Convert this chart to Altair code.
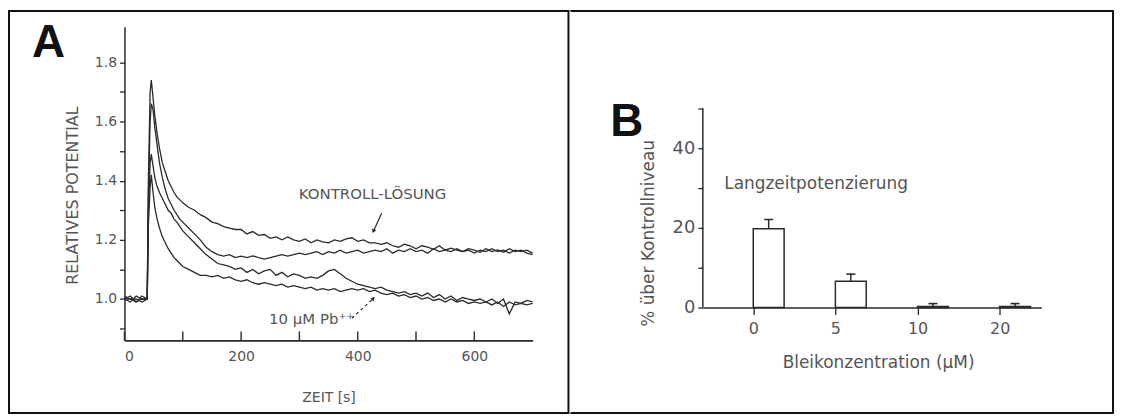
import altair as alt
import pandas as pd

# ---------------- data: panel A (time courses) ----------------
T = [0, 10, 20, 30, 39, 41, 44, 46, 49, 52, 56, 60, 65, 70, 75, 80, 85, 90, 95,
     100, 110, 120, 130, 140, 150, 160, 170, 180, 190,
     200, 210, 220, 230, 240, 250, 260, 270, 280, 290,
     300, 310, 320, 330, 340, 350, 360, 370, 380, 390,
     400, 410, 420, 430, 440, 450, 460, 470, 480, 490,
     500, 510, 520, 530, 540, 550, 560, 570, 580, 590,
     600, 610, 620, 630, 640, 650, 660, 670, 680, 690, 700]

CTRL_1 = [1.00, 1.01, 0.99, 1.00, 1.00, 1.40, 1.70, 1.74, 1.68, 1.62, 1.56, 1.51, 1.46, 1.43, 1.40, 1.38, 1.36, 1.345, 1.335,
          1.325, 1.31, 1.30, 1.285, 1.275, 1.26, 1.255, 1.245, 1.24, 1.235,
          1.235, 1.22, 1.228, 1.215, 1.218, 1.205, 1.21, 1.20, 1.21, 1.20,
          1.195, 1.203, 1.19, 1.20, 1.193, 1.19, 1.20, 1.195, 1.203, 1.207,
          1.195, 1.20, 1.19, 1.19, 1.185, 1.19, 1.18, 1.175, 1.185, 1.18,
          1.17, 1.18, 1.175, 1.168, 1.18, 1.165, 1.172, 1.165, 1.16, 1.17,
          1.165, 1.158, 1.17, 1.16, 1.166, 1.158, 1.17, 1.16, 1.165, 1.155, 1.15]

CTRL_2 = [1.00, 0.99, 1.01, 1.00, 1.00, 1.35, 1.60, 1.66, 1.64, 1.58, 1.52, 1.46, 1.41, 1.37, 1.34, 1.32, 1.30, 1.285, 1.27,
          1.26, 1.24, 1.22, 1.20, 1.175, 1.16, 1.15, 1.145, 1.15, 1.14,
          1.145, 1.14, 1.146, 1.14, 1.135, 1.14, 1.145, 1.15, 1.145, 1.15,
          1.155, 1.15, 1.155, 1.16, 1.15, 1.16, 1.155, 1.165, 1.155, 1.16,
          1.165, 1.155, 1.16, 1.165, 1.16, 1.17, 1.155, 1.165, 1.16, 1.17,
          1.16, 1.165, 1.155, 1.17, 1.16, 1.165, 1.16, 1.17, 1.16, 1.165,
          1.155, 1.165, 1.16, 1.17, 1.16, 1.165, 1.155, 1.165, 1.16, 1.165, 1.155]

PB_1 = [1.01, 1.00, 1.00, 0.99, 1.00, 1.30, 1.46, 1.49, 1.45, 1.41, 1.38, 1.36, 1.34, 1.32, 1.30, 1.29, 1.27, 1.26, 1.245,
        1.23, 1.21, 1.19, 1.17, 1.15, 1.135, 1.12, 1.115, 1.11, 1.10,
        1.105, 1.09, 1.10, 1.085, 1.095, 1.10, 1.08, 1.09, 1.075, 1.085,
        1.08, 1.07, 1.075, 1.07, 1.08, 1.095, 1.10, 1.085, 1.07, 1.06,
        1.05, 1.045, 1.04, 1.035, 1.04, 1.03, 1.025, 1.02, 1.025, 1.015,
        1.02, 1.01, 1.02, 1.005, 1.015, 1.00, 1.01, 0.995, 1.005, 1.00,
        0.995, 1.00, 0.99, 1.00, 0.985, 1.00, 0.95, 0.99, 0.985, 0.995, 0.99]

PB_2 = [1.00, 1.00, 0.99, 1.01, 1.00, 1.25, 1.38, 1.42, 1.36, 1.31, 1.27, 1.24, 1.21, 1.19, 1.17, 1.155, 1.14, 1.13, 1.12,
        1.11, 1.10, 1.09, 1.08, 1.08, 1.075, 1.08, 1.07, 1.075, 1.065,
        1.06, 1.065, 1.055, 1.05, 1.055, 1.05, 1.045, 1.05, 1.04, 1.045,
        1.04, 1.035, 1.04, 1.03, 1.035, 1.03, 1.035, 1.025, 1.03, 1.035,
        1.03, 1.035, 1.025, 1.03, 1.02, 1.015, 1.02, 1.01, 1.015, 1.005,
        1.01, 1.00, 1.005, 0.995, 1.00, 0.99, 1.00, 0.99, 0.995, 0.985,
        0.99, 0.985, 0.99, 0.98, 0.99, 0.975, 0.99, 0.98, 0.985, 0.98, 0.985]

TRACE_NAMES = ["Kontrolle 1", "Kontrolle 2", "Pb 1", "Pb 2"]
X_RANGE_A = [0, 700]
X_TICKS_A = [0, 100, 200, 300, 400, 500, 600]
X_LABELS_A = [0, 200, 400, 600]
Y_TICKS_A = [0.9, 1.0, 1.1, 1.2, 1.3, 1.4, 1.5, 1.6, 1.7, 1.8]

ANN_A_TEXT = ["KONTROLL-LÖSUNG", "10 μM Pb⁺⁺"]
ANN_A_T = [299, 248]
ANN_A_V = [1.354, 0.933]

ARROW_T0 = [441, 390]
ARROW_V0 = [1.29, 0.935]
ARROW_T1 = [427, 427]
ARROW_V1 = [1.229, 1.002]
ARROW_DASH = ["solid", "dashed"]

# ---------------- data: panel B (bar chart) ----------------
CONC_LABELS = ["0", "5", "10", "20"]
LTP_MEAN = [19.8, 6.6, 0.3, 0.3]
LTP_ERR = [2.3, 1.8, 0.7, 0.7]
Y_TICKS_B = [0, 10, 20, 30, 40, 50]
ANN_B_TEXT = ["Langzeitpotenzierung"]
ANN_B_POS = [-0.353]
ANN_B_V = [31]

# ---------------- styling ----------------
FONT = "DejaVu Sans"
INK = "#2a2a2a"
LAB = "#555555"
FRAME = "#111111"

rows = []
for name, vals in zip(TRACE_NAMES, [CTRL_1, CTRL_2, PB_1, PB_2]):
    for t, v in zip(T, vals):
        rows.append({"t": t, "v": v, "trace": name})
df_a = pd.DataFrame(rows)

one = pd.DataFrame({"k": [0]})

# ---------------- panel A ----------------
WA, HA = 410, 315
xa = alt.Scale(domain=X_RANGE_A, nice=False, zero=False)
ya = alt.Scale(domain=[0.86, 1.92], nice=False, zero=False)
ax_xa = alt.Axis(
    values=X_LABELS_A, tickSize=0, labelPadding=9, labelFontSize=14,
    domain=True, domainColor=INK, domainWidth=1.6,
    title="ZEIT [s]", titleFontSize=14,
    titleX=205, titleY=57, titleBaseline="middle", titleAlign="center")
ax_ya = alt.Axis(
    values=Y_TICKS_A, tickSize=5, labelPadding=3, labelFontSize=14,
    labelExpr="(round(datum.value*10) % 2 == 0) ? format(datum.value, '.1f') : ''",
    domainWidth=1.5, title="RELATIVES POTENTIAL", titleFontSize=16,
    titleX=-52, titleY=169, titleAngle=270, titleBaseline="middle", titleAlign="center")


def XA(field):
    return alt.X(field, scale=xa, axis=ax_xa, title="ZEIT [s]")


def YA(field):
    return alt.Y(field, scale=ya, axis=ax_ya, title="RELATIVES POTENTIAL")


lines = alt.Chart(df_a).mark_line(color=INK, strokeWidth=1.3).encode(
    x=XA("t:Q"), y=YA("v:Q"), detail="trace:N",
)

# inward-pointing tick marks of the time axis
ticks_a = alt.Chart(pd.DataFrame({"t": X_TICKS_A})).mark_rule(
    color=INK, strokeWidth=1.4
).encode(x=XA("t:Q"), y=alt.value(HA - 9), y2=alt.value(HA))

ann_a = alt.Chart(pd.DataFrame({"t": ANN_A_T, "v": ANN_A_V, "txt": ANN_A_TEXT})).mark_text(
    font=FONT, fontSize=15, color=LAB, align="left", baseline="middle"
).encode(x=XA("t:Q"), y=YA("v:Q"), text="txt:N")

df_arrow = pd.DataFrame({"t0": ARROW_T0, "v0": ARROW_V0, "t1": ARROW_T1,
                         "v1": ARROW_V1, "dash": ARROW_DASH})
arrow_solid = alt.Chart(df_arrow).transform_filter("datum.dash == 'solid'").mark_rule(
    color=INK, strokeWidth=1.2
).encode(x=XA("t0:Q"), x2="t1:Q", y=YA("v0:Q"), y2="v1:Q")
arrow_dashed = alt.Chart(df_arrow).transform_filter("datum.dash == 'dashed'").mark_rule(
    color=INK, strokeWidth=1.2, strokeDash=[3, 3]
).encode(x=XA("t0:Q"), x2="t1:Q", y=YA("v0:Q"), y2="v1:Q")
head_1 = alt.Chart(df_arrow).transform_filter("datum.dash == 'solid'").mark_point(
    shape="triangle-down", angle=24, size=22, filled=True, color=INK, opacity=1
).encode(x=XA("t1:Q"), y=YA("v1:Q"))
head_2 = alt.Chart(df_arrow).transform_filter("datum.dash == 'dashed'").mark_point(
    shape="triangle-up", angle=46, size=22, filled=True, color=INK, opacity=1
).encode(x=XA("t1:Q"), y=YA("v1:Q"))

letter_a = alt.Chart(one).mark_text(
    text="A", font="Liberation Sans", fontSize=46, fontWeight="bold",
    align="left", baseline="alphabetic", color=FRAME
).encode(x=alt.value(-93), y=alt.value(30))

frame_a = alt.Chart(one).mark_rect(fillOpacity=0, stroke=FRAME, strokeWidth=2).encode(
    x=alt.value(-116), x2=alt.value(446), y=alt.value(-16), y2=alt.value(388)
)

panel_a = alt.layer(frame_a, lines, ticks_a, arrow_solid, arrow_dashed, head_1, head_2,
                    ann_a, letter_a).properties(width=WA, height=HA)

# ---------------- panel B ----------------
df_b = pd.DataFrame({
    "idx": list(range(len(CONC_LABELS))),
    "conc": CONC_LABELS,
    "mean": LTP_MEAN,
    "err": LTP_ERR,
})
WB, HB = 340, 282          # plot top aligned with panel A; 0..50 occupies the lower 200 px
xb = alt.Scale(domain=[-0.553, 3.447], nice=False, zero=False)
yb = alt.Scale(domain=[0, 70.5], nice=False, zero=False)
label_expr_b = "[" + ",".join("'%s'" % c for c in CONC_LABELS) + "][datum.value]"
ax_xb = alt.Axis(
    values=list(range(len(CONC_LABELS))), labelExpr=label_expr_b,
    tickSize=7, labelPadding=6, labelFontSize=16, domainWidth=1.5,
    title="Bleikonzentration (μM)", titleFontSize=17,
    titleX=176, titleY=55, titleBaseline="middle", titleAlign="center")
ax_yb = alt.Axis(
    values=Y_TICKS_B, tickSize=5, labelPadding=3, labelFontSize=18,
    labelExpr="(datum.value % 20 == 0) ? format(datum.value, 'd') : ''",
    domain=False, title="% über Kontrollniveau", titleFontSize=17,
    titleX=-55, titleY=207, titleAngle=270, titleBaseline="middle", titleAlign="center")


def XB(field):
    return alt.X(field, scale=xb, axis=ax_xb, title="Bleikonzentration (μM)")


def YB(field):
    return alt.Y(field, scale=yb, axis=ax_yb, title="% über Kontrollniveau")


bars = alt.Chart(df_b).mark_bar(
    orient="vertical", size=31, xOffset=15.5, fill="white", stroke=INK, strokeWidth=1.5
).encode(x=XB("idx:Q"), y=YB("mean:Q"), y2=alt.datum(0))

err_rule = alt.Chart(df_b).transform_calculate(top="datum.mean + datum.err").mark_rule(
    color=INK, strokeWidth=1.5, xOffset=15.5
).encode(x=XB("idx:Q"), y=YB("mean:Q"), y2="top:Q")
err_cap = alt.Chart(df_b).transform_calculate(top="datum.mean + datum.err").mark_tick(
    color=INK, orient="horizontal", size=9, thickness=1.6, xOffset=15.5, opacity=1
).encode(x=XB("idx:Q"), y=YB("top:Q"))

y_line_b = alt.Chart(pd.DataFrame({"lo": [Y_TICKS_B[0]], "hi": [Y_TICKS_B[-1]]})).mark_rule(
    color=INK, strokeWidth=1.5
).encode(x=alt.value(0), y=YB("lo:Q"), y2="hi:Q")

ann_b = alt.Chart(pd.DataFrame({"p": ANN_B_POS, "v": ANN_B_V, "txt": ANN_B_TEXT})).mark_text(
    font=FONT, fontSize=17, color=LAB, align="left", baseline="middle"
).encode(x=XB("p:Q"), y=YB("v:Q"), text="txt:N")

letter_b = alt.Chart(one).mark_text(
    text="B", font="Liberation Sans", fontSize=46, fontWeight="bold",
    align="left", baseline="alphabetic", color=FRAME
).encode(x=alt.value(-93), y=alt.value(110))

bound_b = alt.Chart(one).mark_rect(fillOpacity=0, strokeOpacity=0).encode(
    x=alt.value(-133), x2=alt.value(413), y=alt.value(-17), y2=alt.value(389)
)
top_b = alt.Chart(one).mark_rule(color=FRAME, strokeWidth=2).encode(
    x=alt.value(-133), x2=alt.value(412), y=alt.value(-16))
right_b = alt.Chart(one).mark_rule(color=FRAME, strokeWidth=2).encode(
    x=alt.value(412), y=alt.value(-17), y2=alt.value(389))
bottom_b = alt.Chart(one).mark_rule(color=FRAME, strokeWidth=2).encode(
    x=alt.value(-133), x2=alt.value(412), y=alt.value(388))

panel_b = alt.layer(bound_b, top_b, right_b, bottom_b, bars, err_rule, err_cap,
                    y_line_b, ann_b, letter_b).properties(width=WB, height=HB)

chart = alt.hconcat(panel_a, panel_b, spacing=0).properties(
    padding=0, background="white"
).configure_view(stroke=None).configure_axis(
    labelFont=FONT, titleFont=FONT, labelColor=LAB, titleColor=LAB,
    domainColor=INK, tickColor=INK, tickWidth=1.3, titleFontWeight="normal", grid=False
)

chart.save("out.html", embed_options={"renderer": "svg", "actions": False})
